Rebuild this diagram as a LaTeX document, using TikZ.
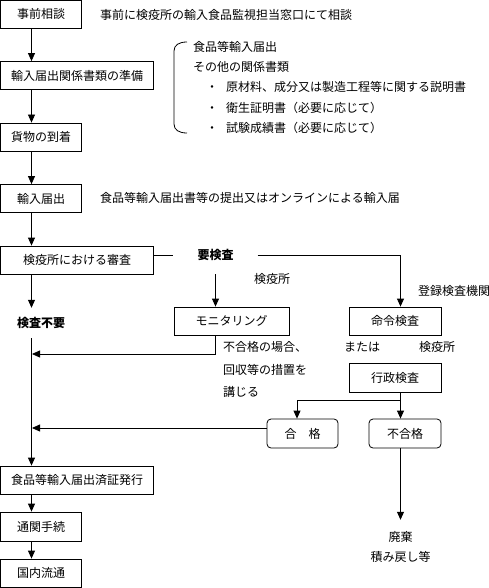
\documentclass[tikz,border=0pt]{standalone}
\usepackage{fontspec}
\setmainfont{Noto Sans CJK JP}
\usetikzlibrary{arrows.meta}
\newcommand\jp{\fontsize{12pt}{14pt}\selectfont}
\tikzset{
  box/.style={draw,line width=.8pt,inner sep=0pt,minimum height=28pt},
  rbox/.style={box,rounded corners=4pt},
  flow/.style={-{Triangle[length=8pt,width=7pt]},line width=.8pt},
  link/.style={line width=.8pt},
  note/.style={inner sep=0pt,anchor=west},
  strong/.style={inner sep=0pt,font=\jp\bfseries},
}

\begin{document}
\begin{tikzpicture}[x=1pt,y=-1pt,font=\jp]
  \useasboundingbox (0,0) rectangle (489,588);
  % main column of steps
  \node[box,minimum width=81pt] (consult) at (41,14) {事前相談};
  \node[box,minimum width=153pt] (papers) at (77,75.5) {輸入届出関係書類の準備};
  \node[box,minimum width=81pt] (arrive) at (41,137) {貨物の到着};
  \node[box,minimum width=81pt] (notify) at (41,198.5) {輸入届出};
  \node[box,minimum width=153pt] (review) at (77,260) {検疫所における審査};
  \node[strong,minimum height=30pt] (noneed) at (41,323) {検査不要};
  \node[box,minimum width=153pt] (cert) at (77,480) {食品等輸入届出済証発行};
  \node[box,minimum width=81pt,minimum height=29pt] (customs) at (41,526.5) {通関手続};
  \node[box,minimum width=81pt] (market) at (41,573) {国内流通};
  % inspection branch
  \node[strong,minimum width=84pt,minimum height=38pt] (need) at (215.5,255) {要検査};
  \node[box,minimum width=115pt] (monitor) at (231.5,321) {モニタリング};
  \node[box,minimum width=92pt] (order) at (395,321) {命令検査};
  \node[box,minimum width=92pt,minimum height=29pt] (admin) at (395,377.5) {行政検査};
  \node[rbox,minimum width=71pt,minimum height=29pt] (pass) at (302.5,433.5) {合　格};
  \node[rbox,minimum width=72pt,minimum height=29pt] (fail) at (405,433.5) {不合格};
  \node[inner sep=0pt,align=center,minimum height=54pt,
    font=\fontsize{12pt}{20pt}\selectfont] (dispose) at (400.5,547) {廃棄\\積み戻し等};
  % side notes
  \node[note] (consultnote) at (100,15) {事前に検疫所の輸入食品監視担当窓口にて相談};
  \node[note] (doc1) at (193,47) {食品等輸入届出};
  \node[note] (doc2) at (193,67) {その他の関係書類};
  \node[note] (doc3) at (206,87) {\makebox[20pt][l]{・}原材料、成分又は製造工程等に関する説明書};
  \node[note] (doc4) at (206,108) {\makebox[20pt][l]{・}衛生証明書（必要に応じて）};
  \node[note] (doc5) at (206,128) {\makebox[20pt][l]{・}試験成績書（必要に応じて）};
  \draw[link] (187,42) .. controls (179,42) and (174,45) .. (174,51)
    -- (174,124) .. controls (174,130) and (179,133) .. (187,133);
  \node[note] (notifynote) at (100,198) {食品等輸入届出書等の提出又はオンラインによる輸入届};
  \node[note] (qsmon) at (254,279) {検疫所};
  \node[note] (regbody) at (418,291) {登録検査機関};
  \node[note] (orword) at (344,347) {または};
  \node[note] (qsadm) at (419,347) {検疫所};
  \node[note,align=left,font=\fontsize{12pt}{22.5pt}\selectfont] (recall) at (223,369.5)
    {不合格の場合、\\回収等の措置を\\講じる};
  % helper points
  \coordinate (spine) at (31.5,0);
  \coordinate (rx) at (400.5,0);
  \coordinate (px) at (297,0);
  \coordinate (split) at (400.5,400);
  \coordinate (monret) at (32,354);
  \coordinate (passret) at (32,428);
  % connectors
  \draw[flow] (consult.south -| spine) -- (papers.north -| spine);
  \draw[flow] (papers.south -| spine) -- (arrive.north -| spine);
  \draw[flow] (arrive.south -| spine) -- (notify.north -| spine);
  \draw[flow] (notify.south -| spine) -- (review.north -| spine);
  \draw[flow] (review.south -| spine) -- (noneed.north -| spine);
  \draw[flow] (noneed.south -| spine) -- (cert.north -| spine);
  \draw[flow] (cert.south -| spine) -- (customs.north -| spine);
  \draw[flow] (customs.south -| spine) -- (market.north -| spine);
  \draw[link] (review.east |- need.west) -- (need.west);
  \draw[flow] (need.south) -- (monitor.north -| need.south);
  \draw[flow] (need.east) -| (order.north -| rx);
  \draw[flow] (monitor.south -| need.south) |- (monret);
  \draw[link] (admin.south -| rx) -- (split);
  \draw[flow] (split) -| (pass.north -| px);
  \draw[flow] (split) -- (fail.north -| rx);
  \draw[flow] (pass.west |- passret) -- (passret);
  \draw[flow] (fail.south -| rx) -- (dispose.north);
\end{tikzpicture}
\end{document}
